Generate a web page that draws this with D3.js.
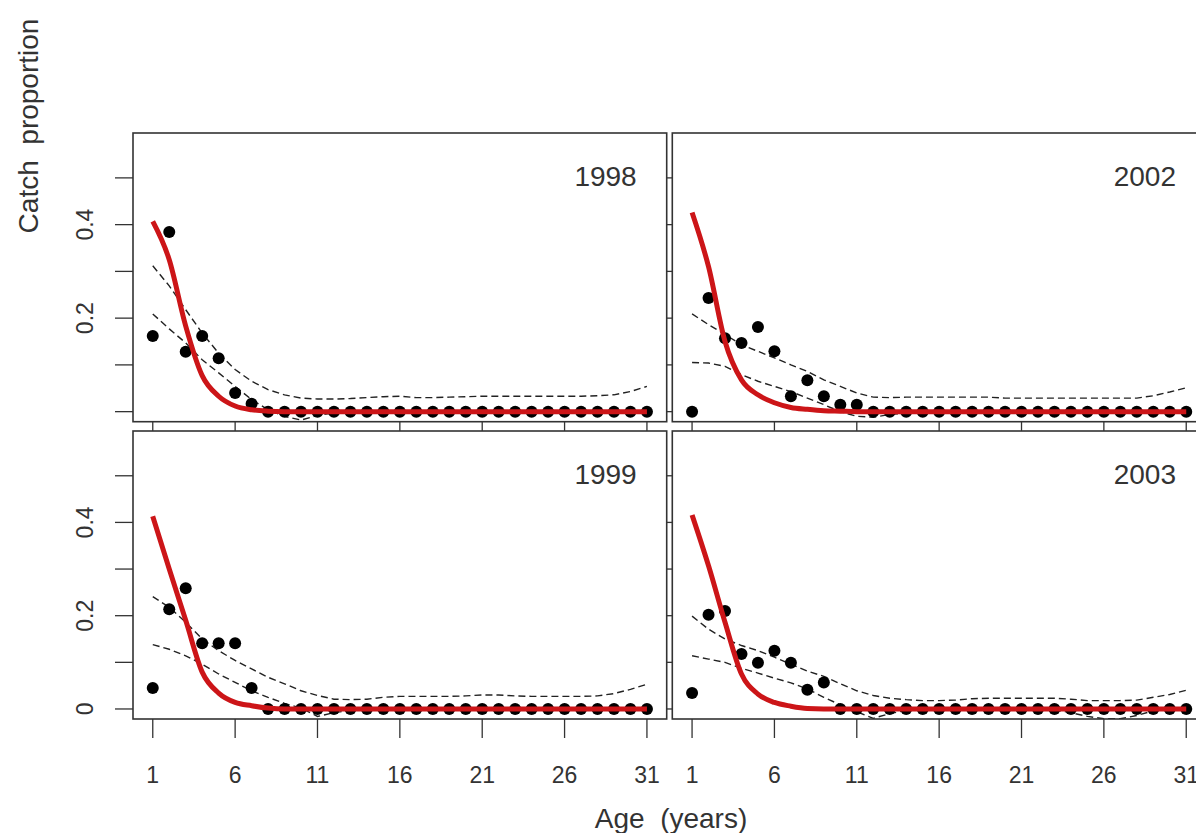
<!DOCTYPE html>
<html>
<head>
<meta charset="utf-8">
<script src="https://cdn.jsdelivr.net/npm/d3@7"></script>
<style>
  body { margin: 0; background: #fff; }
  svg { display: block; font-family: "Liberation Sans", Arial, sans-serif; }
</style>
</head>
<body>
<script>
// ages and axis ticks
var ages = [1,2,3,4,5,6,7,8,9,10,11,12,13,14,15,16,17,18,19,20,21,22,23,24,25,26,27,28,29,30,31];
var xTicks = [1, 6, 11, 16, 21, 26, 31];
var yTicks = [0, 0.1, 0.2, 0.3, 0.4, 0.5];
var yLabels = [0, 0.2, 0.4];
var years = ["1998", "2002", "1999", "2003"];

// observed catch proportions (dots)
var obs1998 = [0.162,0.384,0.128,0.162,0.114,0.040,0.017,0,0,0,0,0,0,0,0,0,0,0,0,0,0,0,0,0,0,0,0,0,0,0,0];
var obs2002 = [0,0.243,0.157,0.147,0.181,0.129,0.033,0.067,0.033,0.015,0.015,0,0,0,0,0,0,0,0,0,0,0,0,0,0,0,0,0,0,0,0];
var obs1999 = [0.045,0.214,0.259,0.141,0.141,0.141,0.045,0,0,0,0,0,0,0,0,0,0,0,0,0,0,0,0,0,0,0,0,0,0,0,0];
var obs2003 = [0.034,0.202,0.210,0.118,0.099,0.125,0.099,0.041,0.057,0,0,0,0,0,0,0,0,0,0,0,0,0,0,0,0,0,0,0,0,0,0];

// fitted proportions (red line)
var fit1998 = [0.407,0.325,0.183,0.077,0.033,0.012,0.004,0.001,0,0,0,0,0,0,0,0,0,0,0,0,0,0,0,0,0,0,0,0,0,0,0];
var fit2002 = [0.426,0.310,0.150,0.068,0.036,0.019,0.009,0.005,0.002,0.001,0,0,0,0,0,0,0,0,0,0,0,0,0,0,0,0,0,0,0,0,0];
var fit1999 = [0.413,0.300,0.190,0.079,0.034,0.014,0.007,0.002,0,0,0,0,0,0,0,0,0,0,0,0,0,0,0,0,0,0,0,0,0,0,0];
var fit2003 = [0.416,0.307,0.186,0.075,0.032,0.014,0.006,0.001,0,0,0,0,0,0,0,0,0,0,0,0,0,0,0,0,0,0,0,0,0,0,0];

// upper and lower bounds (dashed)
var upper1998 = [0.312,0.269,0.218,0.168,0.125,0.090,0.065,0.047,0.036,0.029,0.027,0.027,0.028,0.030,0.032,0.033,0.030,0.030,0.031,0.032,0.033,0.033,0.033,0.033,0.033,0.033,0.033,0.034,0.036,0.043,0.054];
var lower1998 = [0.209,0.177,0.147,0.111,0.083,0.054,0.026,0.004,-0.010,-0.018,-0.008,-0.003,-0.002,-0.002,-0.002,-0.002,-0.002,-0.002,-0.002,-0.002,-0.002,-0.002,-0.002,-0.002,-0.002,-0.002,-0.002,-0.002,-0.002,-0.002,-0.002];
var upper2002 = [0.209,0.186,0.165,0.143,0.129,0.115,0.100,0.086,0.068,0.054,0.040,0.031,0.030,0.031,0.031,0.031,0.031,0.031,0.031,0.029,0.029,0.029,0.029,0.029,0.029,0.029,0.029,0.029,0.034,0.042,0.051];
var lower2002 = [0.105,0.104,0.097,0.079,0.065,0.054,0.043,0.029,0.015,0.000,-0.010,-0.012,-0.006,-0.003,-0.002,-0.002,-0.002,-0.002,-0.002,-0.002,-0.002,-0.002,-0.002,-0.002,-0.002,-0.002,-0.002,-0.002,-0.002,-0.002,-0.002];
var upper1999 = [0.241,0.218,0.186,0.150,0.125,0.104,0.086,0.068,0.054,0.039,0.029,0.021,0.020,0.021,0.025,0.027,0.027,0.027,0.027,0.028,0.030,0.030,0.028,0.027,0.027,0.027,0.027,0.028,0.033,0.042,0.053];
var lower1999 = [0.138,0.128,0.114,0.096,0.075,0.057,0.039,0.025,0.012,0.002,-0.016,-0.008,-0.003,-0.002,-0.002,-0.002,-0.002,-0.002,-0.002,-0.002,-0.002,-0.002,-0.002,-0.002,-0.002,-0.002,-0.002,-0.002,-0.002,-0.002,-0.002];
var upper2003 = [0.199,0.171,0.150,0.136,0.125,0.111,0.096,0.081,0.070,0.054,0.039,0.029,0.023,0.020,0.018,0.018,0.019,0.022,0.023,0.023,0.023,0.023,0.023,0.021,0.018,0.018,0.018,0.019,0.025,0.031,0.040];
var lower2003 = [0.114,0.107,0.100,0.087,0.077,0.066,0.056,0.043,0.025,0.009,-0.006,-0.020,-0.010,-0.003,-0.002,-0.002,-0.002,-0.002,-0.002,-0.002,-0.002,-0.002,-0.002,-0.008,-0.016,-0.021,-0.021,-0.014,-0.004,-0.002,-0.002];

var panels = [
  {year: years[0], obs: obs1998, fit: fit1998, up: upper1998, lo: lower1998, col: 0, row: 0},
  {year: years[1], obs: obs2002, fit: fit2002, up: upper2002, lo: lower2002, col: 1, row: 0},
  {year: years[2], obs: obs1999, fit: fit1999, up: upper1999, lo: lower1999, col: 0, row: 1},
  {year: years[3], obs: obs2003, fit: fit2003, up: upper2003, lo: lower2003, col: 1, row: 1}
];

var w = 1196, h = 833;
var colX = [[133, 666.7], [672.3, 1206]];
var rowY = [[133, 421.7], [431, 719]];

var svg = d3.select("body").append("svg")
    .attr("width", w)
    .attr("height", h);

var defs = svg.append("defs");

panels.forEach(function(p, i) {
  var x = d3.scaleLinear().domain([-0.2, 32.2]).range(colX[p.col]);
  var y = d3.scaleLinear().domain([-0.0215, 0.596]).range([rowY[p.row][1], rowY[p.row][0]]);

  defs.append("clipPath").attr("id", "clip" + i)
    .append("rect")
    .attr("x", colX[p.col][0]).attr("y", rowY[p.row][0])
    .attr("width", colX[p.col][1] - colX[p.col][0])
    .attr("height", rowY[p.row][1] - rowY[p.row][0]);

  var g = svg.append("g");
  var inner = g.append("g").attr("clip-path", "url(#clip" + i + ")");

  var line = d3.line()
      .x(function(d, k) { return x(ages[k]); })
      .y(function(d) { return y(d); });

  // dashed bounds
  [p.up, p.lo].forEach(function(s) {
    inner.append("path")
      .datum(s)
      .attr("d", line)
      .attr("fill", "none")
      .attr("stroke", "#222")
      .attr("stroke-width", 1.4)
      .attr("stroke-dasharray", "7,4");
  });

  // observed dots
  inner.selectAll("circle")
    .data(p.obs)
    .enter()
    .append("circle")
    .attr("cx", function(d, k) { return x(ages[k]); })
    .attr("cy", function(d) { return y(d); })
    .attr("r", 6)
    .attr("fill", "#000");

  // fitted curve
  inner.append("path")
    .datum(p.fit)
    .attr("d", line.curve(d3.curveMonotoneX))
    .attr("fill", "none")
    .attr("stroke", "#cc1518")
    .attr("stroke-width", 5)
    .attr("stroke-linejoin", "round");

  // panel box
  g.append("rect")
    .attr("x", colX[p.col][0]).attr("y", rowY[p.row][0])
    .attr("width", colX[p.col][1] - colX[p.col][0])
    .attr("height", rowY[p.row][1] - rowY[p.row][0])
    .attr("fill", "none")
    .attr("stroke", "#333")
    .attr("stroke-width", 1.6);

  // year label
  g.append("text")
    .attr("x", colX[p.col][1] - 30)
    .attr("y", rowY[p.row][0] + 53)
    .attr("text-anchor", "end")
    .attr("font-size", 28)
    .attr("fill", "#333")
    .text(p.year);

  // y ticks: outside on the left column, across the gap for the right column
  var yt = g.selectAll(".yt").data(yTicks).enter().append("line")
    .attr("y1", function(d) { return y(d); })
    .attr("y2", function(d) { return y(d); })
    .attr("stroke", "#333")
    .attr("stroke-width", 1.3);
  if (p.col == 0) {
    yt.attr("x1", colX[0][0] - 18).attr("x2", colX[0][0]);
    g.selectAll(".yl").data(p.row == 0 ? yLabels.slice(1) : yLabels).enter().append("text")
      .attr("transform", function(d) { return "translate(93," + y(d) + ") rotate(-90)"; })
      .attr("text-anchor", "middle")
      .attr("font-size", 23)
      .attr("fill", "#333")
      .text(function(d) { return d3.format("~g")(d); });
  } else {
    yt.attr("x1", colX[0][1]).attr("x2", colX[1][0]);
  }

  // x ticks: across the row gap for the top row, outside for the bottom row
  var xt = g.selectAll(".xt").data(xTicks).enter().append("line")
    .attr("x1", function(d) { return x(d); })
    .attr("x2", function(d) { return x(d); })
    .attr("stroke", "#333")
    .attr("stroke-width", 1.3);
  if (p.row == 0) {
    xt.attr("y1", rowY[0][1]).attr("y2", rowY[1][0]);
  } else {
    xt.attr("y1", rowY[1][1]).attr("y2", rowY[1][1] + 19);
    g.selectAll(".xl").data(xTicks).enter().append("text")
      .attr("x", function(d) { return x(d); })
      .attr("y", 783)
      .attr("text-anchor", "middle")
      .attr("font-size", 23)
      .attr("fill", "#333")
      .text(function(d) { return d; });
  }
});

// axis titles
svg.append("text")
    .attr("x", 671)
    .attr("y", 828)
    .attr("text-anchor", "middle")
    .attr("font-size", 28)
    .attr("fill", "#333")
    .attr("xml:space", "preserve")
    .text("Age  (years)");

svg.append("text")
    .attr("transform", "translate(38,126) rotate(-90)")
    .attr("text-anchor", "middle")
    .attr("font-size", 28)
    .attr("fill", "#333")
    .attr("xml:space", "preserve")
    .text("Catch  proportion");
</script>
</body>
</html>
